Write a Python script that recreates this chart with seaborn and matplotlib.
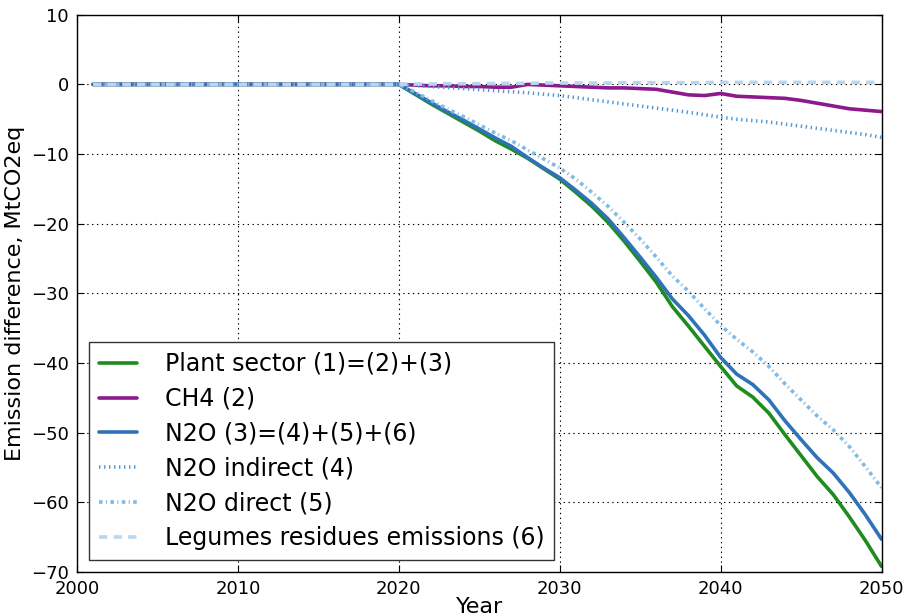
import numpy as np
import pandas as pd
import seaborn as sns
import matplotlib.pyplot as plt

years = list(range(2001, 2051))

flat = [0.0] * 19  # 2001-2019

plant_sector = flat + [0.0, -1.4, -2.8, -4.1, -5.4, -6.7, -8.1, -9.3, -10.6, -12.1, -13.6,
                       -15.5, -17.5, -19.8, -22.5, -25.4, -28.4, -31.9, -34.7, -37.6, -40.5,
                       -43.3, -44.9, -47.2, -50.3, -53.3, -56.3, -58.9, -62.1, -65.5, -69.2]
ch4 = flat + [0.0, -0.1, -0.2, -0.2, -0.3, -0.3, -0.4, -0.4, 0.0, -0.1, -0.2,
              -0.3, -0.4, -0.5, -0.5, -0.6, -0.7, -1.1, -1.5, -1.6, -1.3,
              -1.7, -1.8, -1.9, -2.0, -2.3, -2.7, -3.1, -3.5, -3.7, -3.9]
n2o = flat + [0.0, -1.3, -2.6, -3.9, -5.1, -6.4, -7.7, -8.9, -10.5, -12.0, -13.4,
              -15.2, -17.1, -19.3, -22.0, -24.8, -27.7, -30.8, -33.2, -36.0, -39.2,
              -41.6, -43.1, -45.3, -48.3, -51.0, -53.6, -55.8, -58.6, -61.8, -65.3]
n2o_indirect = flat + [0.0, -0.15, -0.3, -0.45, -0.6, -0.75, -0.9, -1.05, -1.2, -1.4, -1.6,
                       -1.9, -2.2, -2.5, -2.8, -3.1, -3.4, -3.7, -4.0, -4.35, -4.7,
                       -5.0, -5.2, -5.4, -5.7, -6.0, -6.3, -6.6, -6.9, -7.2, -7.6]
n2o_direct = flat + [0.0, -1.1, -2.3, -3.5, -4.6, -5.8, -7.0, -8.1, -9.4, -10.7, -12.0,
                     -13.6, -15.5, -17.5, -19.8, -22.2, -24.8, -27.5, -29.7, -32.2, -34.6,
                     -36.6, -38.4, -40.5, -43.0, -45.3, -47.6, -49.6, -52.0, -54.9, -57.9]
legumes = flat + [0.0, 0.05, 0.05, 0.1, 0.1, 0.1, 0.15, 0.15, 0.15, 0.2, 0.2,
                  0.2, 0.2, 0.2, 0.25, 0.25, 0.25, 0.25, 0.25, 0.25, 0.3,
                  0.3, 0.3, 0.3, 0.3, 0.3, 0.3, 0.3, 0.3, 0.3, 0.3]

labels = ["Plant sector (1)=(2)+(3)", "CH4 (2)", "N2O (3)=(4)+(5)+(6)",
          "N2O indirect (4)", "N2O direct (5)", "Legumes residues emissions (6)"]
series = [plant_sector, ch4, n2o, n2o_indirect, n2o_direct, legumes]
colors = ["#1e8c1e", "#8c1a8c", "#2f72b8", "#4f98d4", "#80bbe4", "#b8d6ee"]
dash_patterns = [None, None, None, [1.0, 2.6], [2.6, 2.4, 0.8, 2.4], [6, 4.5]]

sns.set_style("ticks")
plt.rcParams["font.family"] = ["DejaVu Sans"]
plt.rcParams["lines.scale_dashes"] = False
for key in ["text.color", "axes.labelcolor", "xtick.color", "ytick.color"]:
    plt.rcParams[key] = "black"

fig = plt.figure(figsize=(9.06, 6.15), dpi=100)
ax = fig.add_axes([0.085, 0.07, 0.888, 0.906])

for lab, vals, col, dp in zip(labels, series, colors, dash_patterns):
    df = pd.DataFrame({"Year": years, "value": vals})
    sns.lineplot(data=df, x="Year", y="value", ax=ax, color=col,
                 linewidth=2.6, label=lab, legend=False)
    if dp is not None:
        ax.lines[-1].set_dashes(dp)

ax.set_xlim(2000, 2050)
ax.set_ylim(-70, 10)
ax.set_xticks(range(2000, 2051, 10))
ax.set_yticks(range(-70, 11, 10))
ax.grid(True, color="black", linewidth=0.8, dashes=[1, 2.5])
ax.tick_params(direction="in", top=True, right=True, labelsize=13, length=5, pad=6)
for s in ax.spines.values():
    s.set_color("black")
    s.set_linewidth(1.0)
ax.set_xlabel("Year", fontsize=16, labelpad=-1)
ax.set_ylabel("Emission difference, MtCO2eq", fontsize=16)

leg = ax.legend(loc="lower left", fontsize=17, fancybox=False, frameon=True,
                handlelength=1.6, handletextpad=1.2, labelspacing=0.46,
                borderaxespad=0.5, borderpad=0.42)
leg.get_frame().set_edgecolor("#333333")
leg.get_frame().set_linewidth(1.0)
leg.get_frame().set_alpha(1)

fig.savefig("out.png", dpi=100)
